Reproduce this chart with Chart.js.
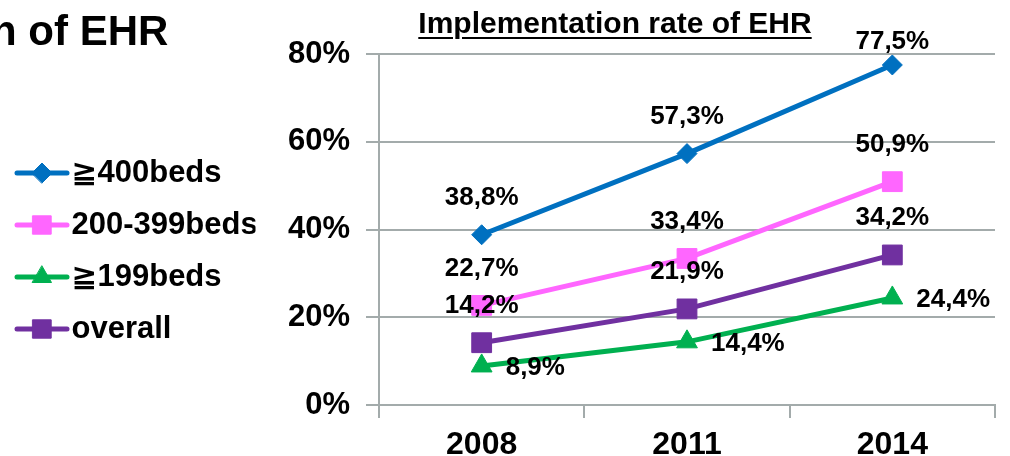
<!DOCTYPE html>
<html>
<head>
    <title>Implementation rate of EHR</title>
    <script src="https://cdn.jsdelivr.net/npm/chart.js"></script>
    <style>
        body { margin: 0; background: #fff; }
        #page { position: relative; width: 1010px; height: 456px; overflow: hidden; font-family: 'Liberation Sans', 'DejaVu Sans', Arial, sans-serif; font-weight: bold; }
        #heading { position: absolute; left: -9px; top: 10px; font-size: 42px; line-height: 42px; color: #000; white-space: nowrap; }
        #chartTitle { position: absolute; left: 415px; top: 8px; width: 400px; text-align: center; font-size: 30px; line-height: 30px; color: #000;
                      text-decoration: underline; text-decoration-thickness: 2px; text-underline-offset: 4px; white-space: nowrap; }
        #chartBox { position: absolute; left: 0; top: 0; width: 1010px; height: 456px; }
    </style>
</head>
<body>
<div id="page">
    <div id="chartBox"><canvas id="lineChart"></canvas></div>
    <div id="heading">n of EHR</div>
    <div id="chartTitle">Implementation rate of EHR</div>
</div>

<script>
    // chart data
    const years = ['2008', '2011', '2014'];
    const seriesNames = ['≧400beds', '200-399beds', '≧199beds', 'overall'];
    const beds400 = [38.8, 57.3, 77.5];
    const beds200to399 = [22.7, 33.4, 50.9];
    const beds199 = [8.9, 14.4, 24.4];
    const overall = [14.2, 21.9, 34.2];
    const yTicks = [0, 20, 40, 60, 80];

    const fontFamily = "'Liberation Sans', 'DejaVu Sans', Arial, sans-serif";
    const gridColor = '#a3abab';
    const padLeft = 7;

    Chart.defaults.font.family = fontFamily;
    Chart.defaults.font.weight = 'bold';
    Chart.defaults.color = '#000';

    // small canvas with a line and a marker, used as legend symbol
    function legendIcon(color, style, radius) {
        const c = document.createElement('canvas');
        c.width = 56;
        c.height = 28;
        const g = c.getContext('2d');
        g.strokeStyle = color;
        g.lineWidth = 5;
        g.lineCap = 'round';
        g.beginPath();
        g.moveTo(3, 14);
        g.lineTo(53, 14);
        g.stroke();
        g.fillStyle = color;
        g.strokeStyle = color;
        g.lineWidth = 1;
        Chart.helpers.drawPoint(g, { pointStyle: style, radius: radius, rotation: 0, borderWidth: 1 }, 28, 14);
        return c;
    }

    function makeSet(name, values, color, style, radius, legendRadius, side) {
        return {
            label: name,
            data: values,
            borderColor: color,
            backgroundColor: color,
            borderWidth: 5,
            tension: 0,
            pointStyle: style,
            pointRadius: radius,
            pointBackgroundColor: color,
            pointBorderColor: color,
            pointBorderWidth: 1,
            labelSide: side,
            icon: legendIcon(color, style, legendRadius)
        };
    }

    // draws the value next to every point
    const valueLabels = {
        id: 'valueLabels',
        afterDatasetsDraw(chart) {
            const ctx = chart.ctx;
            ctx.save();
            ctx.font = 'bold 26px ' + fontFamily;
            ctx.fillStyle = '#000';
            ctx.textBaseline = 'middle';
            chart.data.datasets.forEach((ds, i) => {
                chart.getDatasetMeta(i).data.forEach((pt, j) => {
                    const text = ds.data[j].toFixed(1).replace('.', ',') + '%';
                    if (ds.labelSide === 'right') {
                        ctx.textAlign = 'left';
                        ctx.fillText(text, pt.x + 24, pt.y + 2);
                    } else {
                        ctx.textAlign = 'center';
                        ctx.fillText(text, pt.x, Math.max(pt.y - 37, 42));
                    }
                });
            });
            ctx.restore();
        }
    };

    // moves the legend block up a little
    const legendNudge = {
        id: 'legendNudge',
        afterLayout(chart) {
            chart.legend.bottom -= 8;
        }
    };

    const ctx = document.getElementById('lineChart').getContext('2d');
    new Chart(ctx, {
        type: 'line',
        data: {
            labels: years,
            datasets: [
                makeSet(seriesNames[0], beds400, '#0070c0', 'rectRot', 10, 10, 'top'),
                makeSet(seriesNames[1], beds200to399, '#ff66ff', 'rect', 14, 13, 'top'),
                makeSet(seriesNames[2], beds199, '#00b050', 'triangle', 12, 11, 'right'),
                makeSet(seriesNames[3], overall, '#7030a0', 'rect', 14, 13, 'top')
            ]
        },
        options: {
            responsive: true,
            maintainAspectRatio: false,
            animation: false,
            events: [],
            layout: {
                padding: { left: padLeft, top: 54, right: 9, bottom: 0 }
            },
            scales: {
                x: {
                    offset: true,
                    ticks: { color: '#000', font: { size: 32 }, padding: 8 },
                    grid: { offset: true, drawOnChartArea: false, drawTicks: true, tickLength: 13, color: gridColor, lineWidth: 2 },
                    border: { color: gridColor, width: 2 },
                    afterFit: s => { s.height = 51; }
                },
                y: {
                    min: 0,
                    max: 80,
                    afterBuildTicks: s => { s.ticks = yTicks.map(v => ({ value: v })); },
                    ticks: { color: '#000', font: { size: 31 }, padding: 16, callback: v => v + '%' },
                    grid: { color: gridColor, lineWidth: 2, tickLength: 13 },
                    border: { color: gridColor, width: 2 },
                    afterFit: s => {
                        const lw = s.chart.legend && s.chart.legend.width ? s.chart.legend.width : 260;
                        s.width = 379 - padLeft - lw;
                    }
                }
            },
            plugins: {
                title: { display: false },
                tooltip: { enabled: false },
                legend: {
                    display: true,
                    position: 'left',
                    labels: {
                        usePointStyle: true,
                        pointStyleWidth: 28,
                        padding: 21,
                        color: '#000',
                        font: { size: 31 },
                        generateLabels: chart => chart.data.datasets.map((ds, i) => ({
                            text: ds.label,
                            pointStyle: ds.icon,
                            fontColor: '#000',
                            fillStyle: ds.borderColor,
                            strokeStyle: ds.borderColor,
                            lineWidth: 0,
                            hidden: false,
                            datasetIndex: i
                        }))
                    }
                }
            }
        },
        plugins: [valueLabels, legendNudge]
    });
</script>
</body>
</html>
